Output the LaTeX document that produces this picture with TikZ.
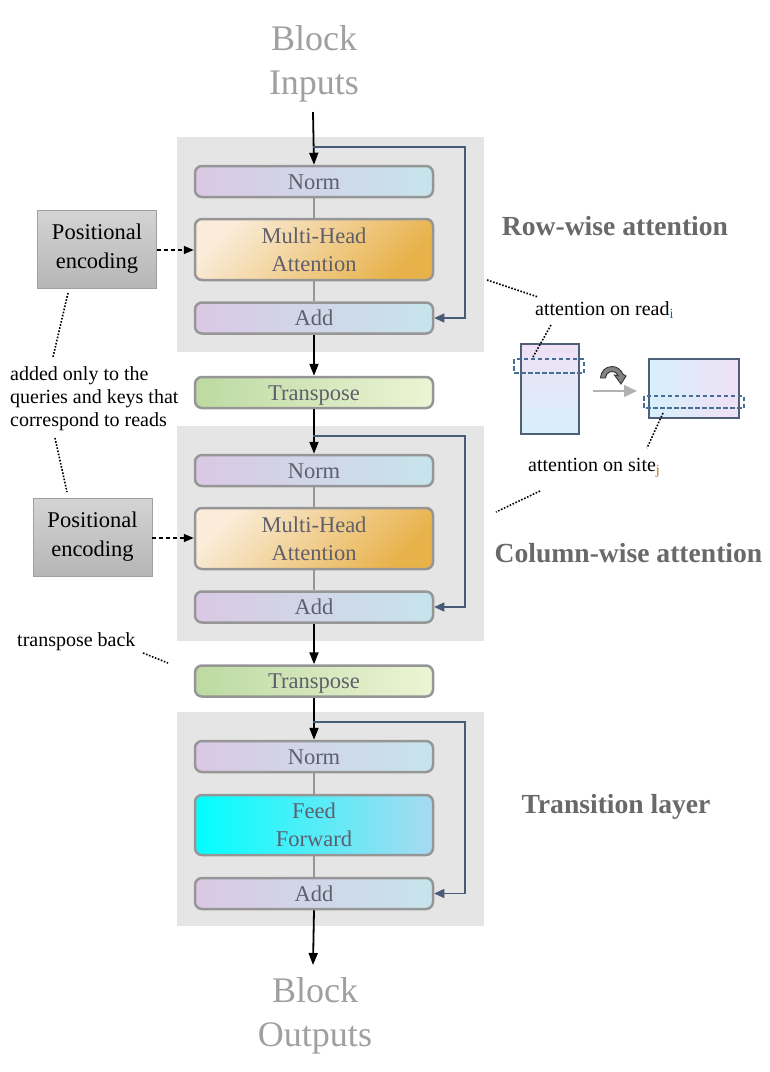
\documentclass[tikz,border=0pt]{standalone}
\usepackage{fontspec}
\setmainfont{Liberation Serif}
\usetikzlibrary{arrows.meta,calc}
\definecolor{panelgray}{RGB}{229,229,229}
\definecolor{boxborder}{RGB}{150,150,150}
\definecolor{boxtext}{RGB}{95,95,108}
\definecolor{iotext}{RGB}{160,160,160}
\definecolor{titletext}{RGB}{105,105,105}
\definecolor{normL}{RGB}{218,200,228}
\definecolor{normR}{RGB}{198,228,236}
\definecolor{mhaA}{RGB}{250,236,216}
\definecolor{mhaB}{RGB}{232,178,75}
\definecolor{trL}{RGB}{188,218,162}
\definecolor{trR}{RGB}{236,244,212}
\definecolor{ffL}{RGB}{0,255,255}
\definecolor{ffR}{RGB}{168,218,240}
\definecolor{peT}{RGB}{212,212,212}
\definecolor{peB}{RGB}{182,182,182}
\definecolor{resline}{RGB}{72,90,118}
\definecolor{dashblue}{RGB}{70,110,150}
\definecolor{rectborder}{RGB}{80,95,120}
\definecolor{pinkish}{RGB}{240,224,246}
\definecolor{cyanish}{RGB}{214,240,250}
\definecolor{subblue}{RGB}{0,112,192}
\definecolor{suborange}{RGB}{200,100,0}
\definecolor{curvegray}{RGB}{130,130,130}
\begin{document}
\begin{tikzpicture}[x=1pt,y=-1pt,
  blk/.style={draw=boxborder, line width=2.5pt, rounded corners=7pt, minimum width=238pt,
    inner sep=0pt, text=boxtext, font=\fontsize{22.5}{28}\selectfont, align=center},
  oneline/.style={text height=17pt, text depth=2pt},
  normbox/.style={blk, oneline, minimum height=31pt, left color=normL, right color=normR},
  mhabox/.style={blk, minimum height=61pt, left color=mhaA, right color=mhaB, shading angle=45},
  trbox/.style={blk, oneline, minimum height=31pt, left color=trL, right color=trR},
  ffbox/.style={blk, minimum height=60pt, left color=ffL, right color=ffR},
  pebox/.style={draw=boxborder!90, line width=0.8pt, top color=peT, bottom color=peB,
    minimum width=119pt, minimum height=78pt, inner sep=0pt, align=center,
    font=\fontsize{22.5}{29}\selectfont},
  panel/.style={fill=panelgray, draw=none},
  iolabel/.style={text=iotext, font=\fontsize{36}{44}\selectfont, align=center, inner sep=0pt},
  title/.style={text=titletext, font=\fontsize{27.6}{32}\selectfont\bfseries, inner sep=0pt},
  note/.style={font=\fontsize{20}{23}\selectfont, inner sep=0pt, align=left},
  mainarrow/.style={line width=1.8pt, -{Triangle[length=12pt,width=9pt]}},
  resarrow/.style={draw=resline, line width=1.3pt, -{Triangle[length=10pt,width=9pt]}},
  link/.style={draw=boxborder, line width=1.5pt},
  dasharrow/.style={line width=1.5pt, dash pattern=on 4pt off 3pt, -{Triangle[length=10pt,width=8pt]}},
  dotline/.style={line width=1.6pt, dash pattern=on 1.6pt off 1.6pt}
]
\useasboundingbox (0,0) rectangle (770,1072);
\fill[white] (0,0) rectangle (770,1072);

% panels
\path[panel] (177,137) rectangle (484,352);
\path[panel] (177,426) rectangle (484,641);
\path[panel] (177,712) rectangle (484,926);

% input / output labels
\node[iolabel] (bin) at (314,64) {Block\\Inputs};
\node[iolabel] (bout) at (315,1016) {Block\\Outputs};
\coordinate (inA) at (313,112);
\coordinate (outA) at (313,965);

% block 1
\node[normbox] (norm1) at (314,181.5) {Norm};
\node[mhabox] (mha1) at (314,249.5) {Multi-Head\\Attention};
\node[normbox] (add1) at (314,318) {Add};
% transpose 1
\node[trbox] (tr1) at (314,392.5) {Transpose};
% block 2
\node[normbox] (norm2) at (314,470.5) {Norm};
\node[mhabox] (mha2) at (314,538.5) {Multi-Head\\Attention};
\node[normbox] (add2) at (314,607) {Add};
% transpose 2
\node[trbox] (tr2) at (314,681) {Transpose};
% block 3
\node[normbox] (norm3) at (314,756.5) {Norm};
\node[ffbox] (ff) at (314,825) {Feed\\Forward};
\node[normbox] (add3) at (314,893.5) {Add};

% internal links
\draw[link] (norm1.south) -- (mha1.north);
\draw[link] (mha1.south) -- (add1.north);
\draw[link] (norm2.south) -- (mha2.north);
\draw[link] (mha2.south) -- (add2.north);
\draw[link] (norm3.south) -- (ff.north);
\draw[link] (ff.south) -- (add3.north);

% main flow
\draw[mainarrow] (inA) -- (norm1.north);
\draw[mainarrow] (add1.south) -- (tr1.north);
\draw[mainarrow] (tr1.south) -- (norm2.north);
\draw[mainarrow] (add2.south) -- (tr2.north);
\draw[mainarrow] (tr2.south) -- (norm3.north);
\draw[mainarrow] (add3.south) -- (outA);

% residuals
\coordinate (s1) at (313,147);
\coordinate (s2) at (313,436);
\coordinate (s3) at (313,722);
\draw[resarrow] (s1) -- (465,147) |- (add1.east);
\draw[resarrow] (s2) -- (465,436) |- (add2.east);
\draw[resarrow] (s3) -- (465,722) |- (add3.east);

% positional encodings
\node[pebox] (pe1) at (97,249) {Positional\\encoding};
\node[pebox] (pe2) at (92.5,537) {Positional\\encoding};
\draw[dasharrow] (pe1.east |- 0,250) -- (mha1.west |- 0,250);
\draw[dasharrow] (pe2.east |- 0,538) -- (mha2.west |- 0,538);

% left notes
\node[note, anchor=west] (addnote) at (10,399) {added only to the\\queries and keys that\\correspond to reads};
\coordinate (d1a) at (68,293); \coordinate (d1b) at (53,357);
\coordinate (d2a) at (55,438); \coordinate (d2b) at (67,492);
\draw[dotline] (d1a) -- (d1b);
\draw[dotline] (d2a) -- (d2b);
\node[note, anchor=west] (tback) at (17,642) {transpose back};
\coordinate (d3a) at (143,653); \coordinate (d3b) at (168,663);
\draw[dotline] (d3a) -- (d3b);

% titles
\node[title] (t1) at (615,226) {Row-wise attention};
\node[title] (t2) at (628.5,553) {Column-wise attention};
\node[title] (t3) at (616,807) {Transition layer};

% right illustration
\node[note, anchor=west] (readlbl) at (535,310) {attention on read\textsubscript{\color{subblue}i}};
\node[note, anchor=west] (sitelbl) at (528,468) {attention on site\textsubscript{\color{suborange}j}};

\path[draw=rectborder, line width=1.3pt, top color=pinkish, bottom color=cyanish] (521,344) rectangle (579,434);
\draw[dashblue, line width=1.8pt, dash pattern=on 4.5pt off 2.5pt] (514,359) rectangle (584,373);
\path[draw=rectborder, line width=1.3pt, left color=cyanish, right color=pinkish] (649,359) rectangle (739,418);
\draw[dashblue, line width=1.8pt, dash pattern=on 4.5pt off 2.5pt] (644,396) rectangle (744,408);

\draw[gray!60, line width=1.5pt, -{Triangle[length=13pt,width=12pt]}] (593,391) -- (637,391);

% curved (flip) arrow
\begin{scope}[shift={(612,378)}, x=1pt, y=1pt]
  \fill[curvegray, draw=black!80, line width=0.9pt]
    (-11.5,0) arc[start angle=180, end angle=20, radius=11.5]
    -- (14,2) -- (9,-6) -- (2.5,3)
    -- ({6.5*cos(20)},{6.5*sin(20)}) arc[start angle=20, end angle=180, radius=6.5] -- cycle;
\end{scope}

\coordinate (e1a) at (487,280); \coordinate (e1b) at (538,297);
\coordinate (e2a) at (551,325); \coordinate (e2b) at (533,357);
\coordinate (e3a) at (663,413); \coordinate (e3b) at (647,448);
\coordinate (e4a) at (540,491); \coordinate (e4b) at (496,512);
\draw[dotline] (e1a) -- (e1b);
\draw[dotline] (e2a) -- (e2b);
\draw[dotline] (e3a) -- (e3b);
\draw[dotline] (e4a) -- (e4b);
\end{tikzpicture}
\end{document}
